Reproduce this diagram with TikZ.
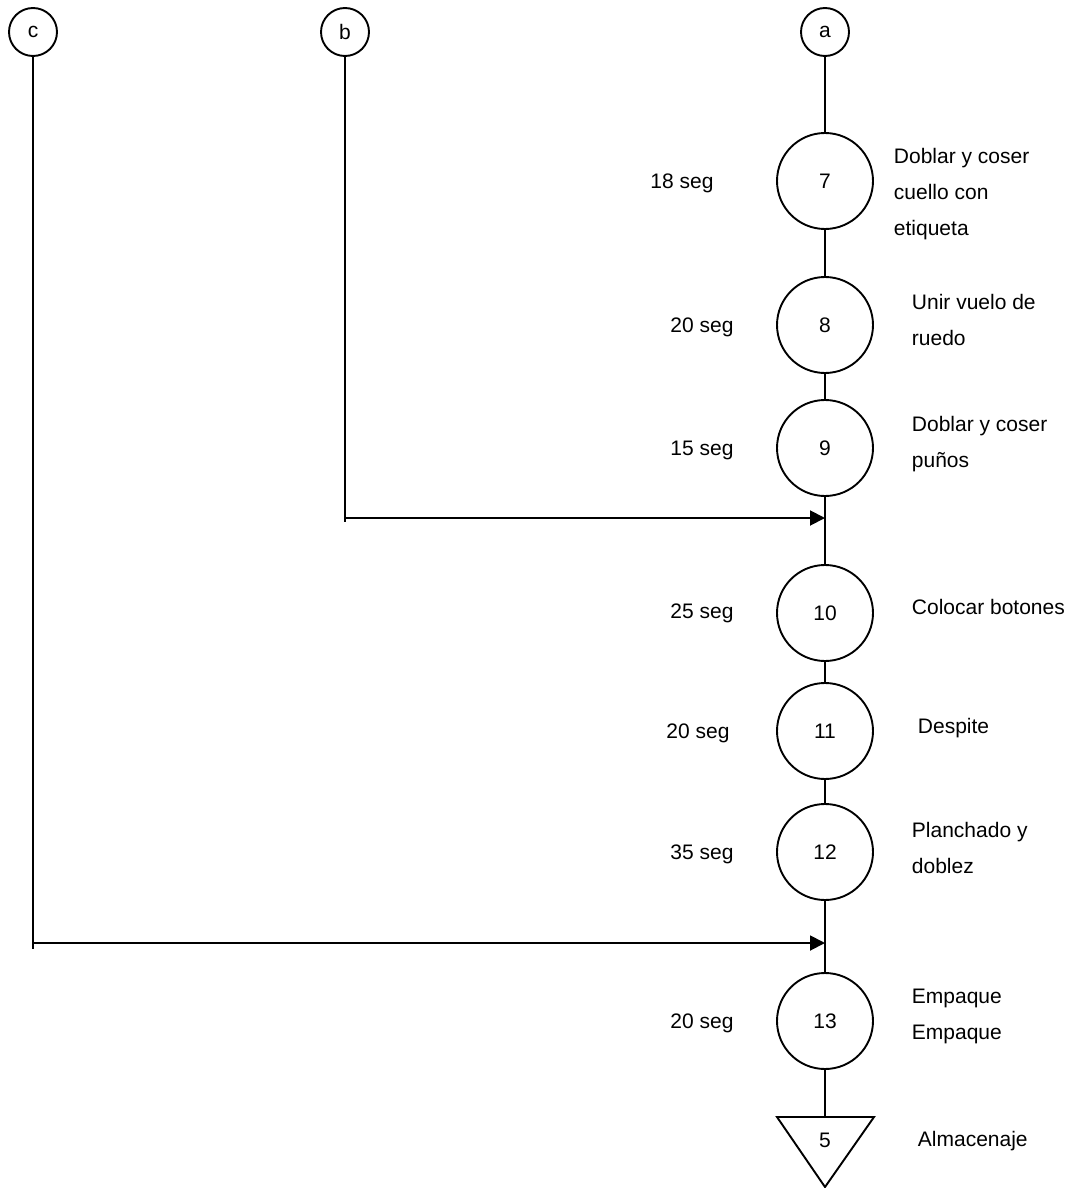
\documentclass[tikz,border=0pt]{standalone}
\usepackage{fontspec}
\setmainfont{Liberation Sans}
\usetikzlibrary{arrows.meta}

\begin{document}
\begin{tikzpicture}[x=1pt,y=-1pt,
  line width=1.9pt,
  txt/.style={font=\fontsize{21}{36}\selectfont, inner sep=0pt},
  conn/.style={circle, draw, minimum size=48pt, inner sep=0pt, txt},
  op/.style={circle, draw, minimum size=96pt, inner sep=0pt, txt},
  desc/.style={txt, anchor=west, align=left},
  secs/.style={txt},
  link/.style={line width=1.9pt},
  feed/.style={link, -{Triangle[length=15pt,width=15pt]}}]

\useasboundingbox (0,0) rectangle (1082,1188);

% off-page connectors
\node[conn] (c) at (33,32) {c};
\node[conn] (b) at (345,32) {b};
\node[conn] (a) at (825,32) {a};

% operations
\node[op] (o7)  at (825,181)  {7};
\node[op] (o8)  at (825,325)  {8};
\node[op] (o9)  at (825,448)  {9};
\node[op] (o10) at (825,613)  {10};
\node[op] (o11) at (825,731)  {11};
\node[op] (o12) at (825,852)  {12};
\node[op] (o13) at (825,1021) {13};

% storage
\coordinate (st) at (825,1117);
\draw[link] (777,1117) -- (874,1117) -- (825,1187) -- cycle;
\node[txt] (s5) at (825,1140) {5};

% main line
\draw[link] (a) -- (o7);
\draw[link] (o7) -- (o8);
\draw[link] (o8) -- (o9);
\draw[link] (o9) -- (o10);
\draw[link] (o10) -- (o11);
\draw[link] (o11) -- (o12);
\draw[link] (o12) -- (o13);
\draw[link] (o13) -- (st);

% incoming lines
\coordinate (bend) at (345,522);
\coordinate (bc) at (345,518);
\coordinate (bj) at (825,518);
\draw[link] (b) -- (bend);
\draw[feed] (bc) -- (bj);

\coordinate (cend) at (33,949);
\coordinate (cc) at (33,943);
\coordinate (cj) at (825,943);
\draw[link] (c) -- (cend);
\draw[feed] (cc) -- (cj);

% times
\node[secs] (t7)  at (682,183)  {18 seg};
\node[secs] (t8)  at (702,327)  {20 seg};
\node[secs] (t9)  at (702,450)  {15 seg};
\node[secs] (t10) at (702,613)  {25 seg};
\node[secs] (t11) at (698,733)  {20 seg};
\node[secs] (t12) at (702,854)  {35 seg};
\node[secs] (t13) at (702,1023) {20 seg};

% descriptions
\node[desc] (d7)  at (893,194)  {Doblar y coser\\cuello con\\etiqueta};
\node[desc] (d8)  at (911,320)  {Unir vuelo de\\ruedo};
\node[desc] (d9)  at (911,444)  {Doblar y coser\\puños};
\node[desc] (d10) at (911,607)  {Colocar botones};
\node[desc] (d11) at (917,728)  {Despite};
\node[desc] (d12) at (911,848)  {Planchado y\\doblez};
\node[desc] (d13) at (911,1016) {Empaque\\Empaque};
\node[desc] (d5)  at (917,1141) {Almacenaje};

\end{tikzpicture}
\end{document}
